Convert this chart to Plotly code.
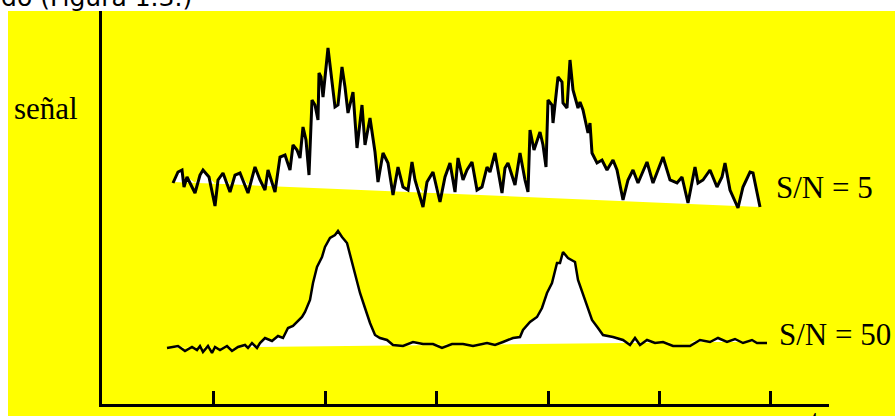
import numpy as np
import plotly.graph_objects as go

# ---- data (time in arbitrary units, axis origin = 0; signal in arbitrary units) ----
sn5_t = [71, 76, 80, 82, 85, 93, 98, 101, 107, 113, 116, 121, 128, 133, 138, 146, 153, 158, 163, 166,
         173, 178, 183, 188, 191, 195, 198, 201, 204, 207, 210, 213, 216, 217, 219, 221, 226, 230, 233, 236,
         240, 243, 246, 251, 255, 260, 263, 268, 273, 276, 281, 286, 291, 296, 301, 306, 310, 313, 321, 325,
         331, 338, 343, 348, 353, 356, 361, 365, 370, 375, 380, 385, 388, 393, 398, 400, 403, 406, 413, 418,
         423, 426, 428, 430, 432, 438, 441, 444, 446, 450, 451, 456, 460, 461, 465, 468, 471, 476, 478, 481,
         486, 488, 490, 495, 500, 505, 511, 515, 521, 526, 531, 536, 545, 551, 556, 561, 568, 575, 580, 586,
         593, 596, 601, 608, 615, 620, 623, 628, 636, 641, 648, 651, 658]
sn5_signal = [221, 232, 234, 217, 227, 211, 229, 234, 227, 198, 224, 231, 212, 229, 231, 211, 237, 224, 214, 234,
              212, 247, 249, 234, 259, 254, 246, 277, 264, 229, 304, 299, 284, 331, 327, 307, 356, 324, 297, 299,
              337, 317, 291, 312, 256, 299, 259, 286, 252, 222, 251, 241, 209, 237, 217, 214, 242, 224, 197, 222,
              232, 202, 227, 241, 212, 246, 224, 234, 242, 214, 217, 237, 232, 251, 221, 211, 236, 241, 219, 251,
              224, 212, 274, 264, 254, 272, 259, 237, 304, 299, 281, 327, 322, 301, 296, 344, 314, 296, 302, 294,
              271, 281, 251, 241, 244, 234, 244, 234, 204, 224, 234, 221, 242, 221, 234, 247, 224, 221, 227, 201,
              237, 221, 224, 234, 217, 227, 241, 214, 196, 217, 232, 231, 197]
sn5_base_t = [73, 658]
sn5_base_signal = [222, 197]

sn50_t = [65, 76, 83, 90, 95, 98, 101, 106, 110, 113, 118, 125, 130, 136, 143, 146, 150, 155, 158, 163,
          170, 176, 181, 186, 191, 195, 200, 203, 208, 211, 215, 220, 223, 228, 233, 236, 240, 245, 248, 253,
          258, 263, 268, 273, 278, 285, 291, 301, 311, 321, 331, 340, 350, 361, 371, 385, 393, 401, 411, 418,
          421, 428, 435, 440, 445, 450, 455, 458, 461, 466, 473, 476, 481, 485, 490, 496, 501, 511, 521, 528,
          533, 538, 545, 553, 561, 571, 578, 588, 598, 608, 616, 625, 633, 641, 650, 655, 665]
sn50_signal = [56, 58, 53, 57, 54, 58, 52, 58, 51, 57, 54, 58, 53, 57, 59, 56, 61, 56, 61, 66,
               63, 68, 66, 76, 78, 82, 87, 92, 104, 121, 137, 147, 157, 166, 169, 173, 167, 161, 149, 131,
               111, 96, 81, 69, 66, 64, 59, 58, 62, 60, 60, 56, 60, 60, 58, 61, 59, 62, 66, 67,
               74, 82, 87, 96, 111, 121, 141, 141, 152, 146, 142, 124, 109, 97, 84, 76, 69, 67, 64, 59,
               66, 59, 64, 61, 62, 58, 58, 58, 64, 62, 66, 62, 65, 61, 64, 61, 61]
sn50_base_t = [68, 668]
sn50_base_signal = [56, 62.5]

tick_positions = [111, 223, 334, 446, 557, 668]
labels = ["S/N = 5", "S/N = 50"]
y_label = "señal"
header_text = "ruido (Figura 1.3.)"

# ---- layout geometry ----
W, H = 895, 416
ML, MR, MT, MB = 102, 66, 11, 12
PW, PH = W - ML - MR, H - MT - MB
XR = [0, PW]
YR = [0, PH]


def px_x(px):
    return (px - ML) / PW


def px_y(py):
    return (H - MB - py) / PH


YELLOW = "#ffff00"
fig = go.Figure()

for t, s, bt, bs in [(sn5_t, sn5_signal, sn5_base_t, sn5_base_signal),
                     (sn50_t, sn50_signal, sn50_base_t, sn50_base_signal)]:
    t = np.array(t, float)
    s = np.array(s, float)
    base = np.interp(t, bt, bs)
    top = np.maximum(s, base)
    fig.add_trace(go.Scatter(x=t, y=base, mode="lines", line=dict(width=0, color="white"),
                             hoverinfo="skip", showlegend=False))
    fig.add_trace(go.Scatter(x=t, y=top, mode="lines", line=dict(width=0, color="white"),
                             fill="tonexty", fillcolor="white", hoverinfo="skip", showlegend=False))

for t, s, lw in [(sn5_t, sn5_signal, 3), (sn50_t, sn50_signal, 2.5)]:
    fig.add_trace(go.Scatter(x=t, y=s, mode="lines", line=dict(width=lw, color="black"),
                             showlegend=False))

serif = "Liberation Serif, Times New Roman, serif"
annotations = [
    dict(text=y_label, x=px_x(12), y=px_y(108.5), xanchor="left", yanchor="middle",
         font=dict(family=serif, size=31, color="black")),
    dict(text=labels[0], x=px_x(774), y=px_y(187.5), xanchor="left", yanchor="middle",
         font=dict(family=serif, size=31, color="black")),
    dict(text=labels[1], x=px_x(777), y=px_y(334.5), xanchor="left", yanchor="middle",
         font=dict(family=serif, size=31, color="black")),
    dict(text=header_text, x=px_x(194), y=px_y(14), xanchor="right", yanchor="bottom",
         font=dict(family="DejaVu Sans, sans-serif", size=25, color="black")),
    dict(text="t", x=px_x(815), y=px_y(401), xanchor="center", yanchor="top",
         font=dict(family=serif, size=31, color="black")),
]
for a in annotations:
    a.update(xref="paper", yref="paper", showarrow=False)

fig.update_layout(
    width=W, height=H,
    margin=dict(l=ML, r=MR, t=MT, b=MB, pad=0),
    paper_bgcolor="white", plot_bgcolor=YELLOW,
    annotations=annotations,
    shapes=[dict(type="rect", xref="paper", yref="paper", layer="below",
                 x0=px_x(8), x1=px_x(900), y0=px_y(420), y1=px_y(11),
                 fillcolor=YELLOW, line=dict(width=0))],
    xaxis=dict(range=XR, showline=True, linecolor="black", linewidth=3, ticks="inside",
               ticklen=13, tickwidth=2.5, tickcolor="black", tickvals=tick_positions,
               showticklabels=False, showgrid=False, zeroline=False, fixedrange=True),
    yaxis=dict(range=YR, showline=True, linecolor="black", linewidth=3, ticks="",
               showticklabels=False, showgrid=False, zeroline=False, fixedrange=True),
)

fig.write_html("out.html", config={"displayModeBar": False},
               post_script="document.body.style.margin='0';document.body.style.overflow='hidden';")
